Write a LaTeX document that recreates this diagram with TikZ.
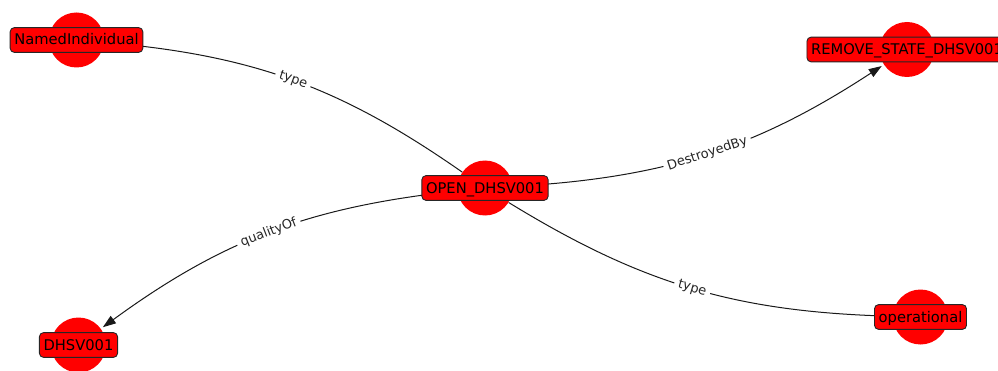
\documentclass[tikz,border=0pt]{standalone}
\usepackage{fontspec}
\setmainfont{DejaVu Sans}
\usetikzlibrary{arrows.meta,backgrounds}

\tikzset{
  blob/.style={circle, fill=red, minimum size=55pt, inner sep=0pt},
  tag/.style={draw=black!85, fill=red, line width=0.9pt, rounded corners=4.2pt,
    inner xsep=4.2pt, inner ysep=4pt, text height=13.4pt, text depth=3.4pt,
    font=\fontsize{14.7}{17}\selectfont},
  rel/.style={line width=1pt, black!90, bend right=15},
  relname/.style={midway, sloped, fill=white, inner xsep=4pt, inner ysep=2pt,
    text=black!85, font=\fontsize{13}{15}\selectfont}
}

\begin{document}
\begin{tikzpicture}[x=1pt,y=1pt]
 \useasboundingbox (0,0) rectangle (998,370);

 % the red discs
 \node[blob] (open) at (485,182) {};
 \node[blob] (named) at (76.5,330) {};
 \node[blob] (remove) at (907,320.5) {};
 \node[blob] (dhsv) at (78.5,25) {};
 \node[blob] (oper) at (920.5,53) {};

 % names on top of the discs
 \node[tag] (open_lbl) at (open.center) {OPEN\_DHSV001};
 \node[tag] (named_lbl) at (named.center) {NamedIndividual};
 \node[tag] (remove_lbl) at (remove.center) {REMOVE\_STATE\_DHSV001};
 \node[tag] (dhsv_lbl) at (dhsv.center) {DHSV001};
 \node[tag] (oper_lbl) at (oper.center) {operational};

 % edges go under the discs
 \begin{scope}[on background layer]
  \draw[rel] (open) to node[relname] {type} (named);
  \draw[rel] (open) to node[relname] {type} (oper);
  \draw[rel,-{Triangle[length=13pt,width=9pt]},shorten >=2.5pt] (open) to node[relname] {DestroyedBy} (remove);
  \draw[rel,-{Triangle[length=13pt,width=9pt]},shorten >=2.5pt] (open) to node[relname] {qualityOf} (dhsv);
 \end{scope}
\end{tikzpicture}
\end{document}
